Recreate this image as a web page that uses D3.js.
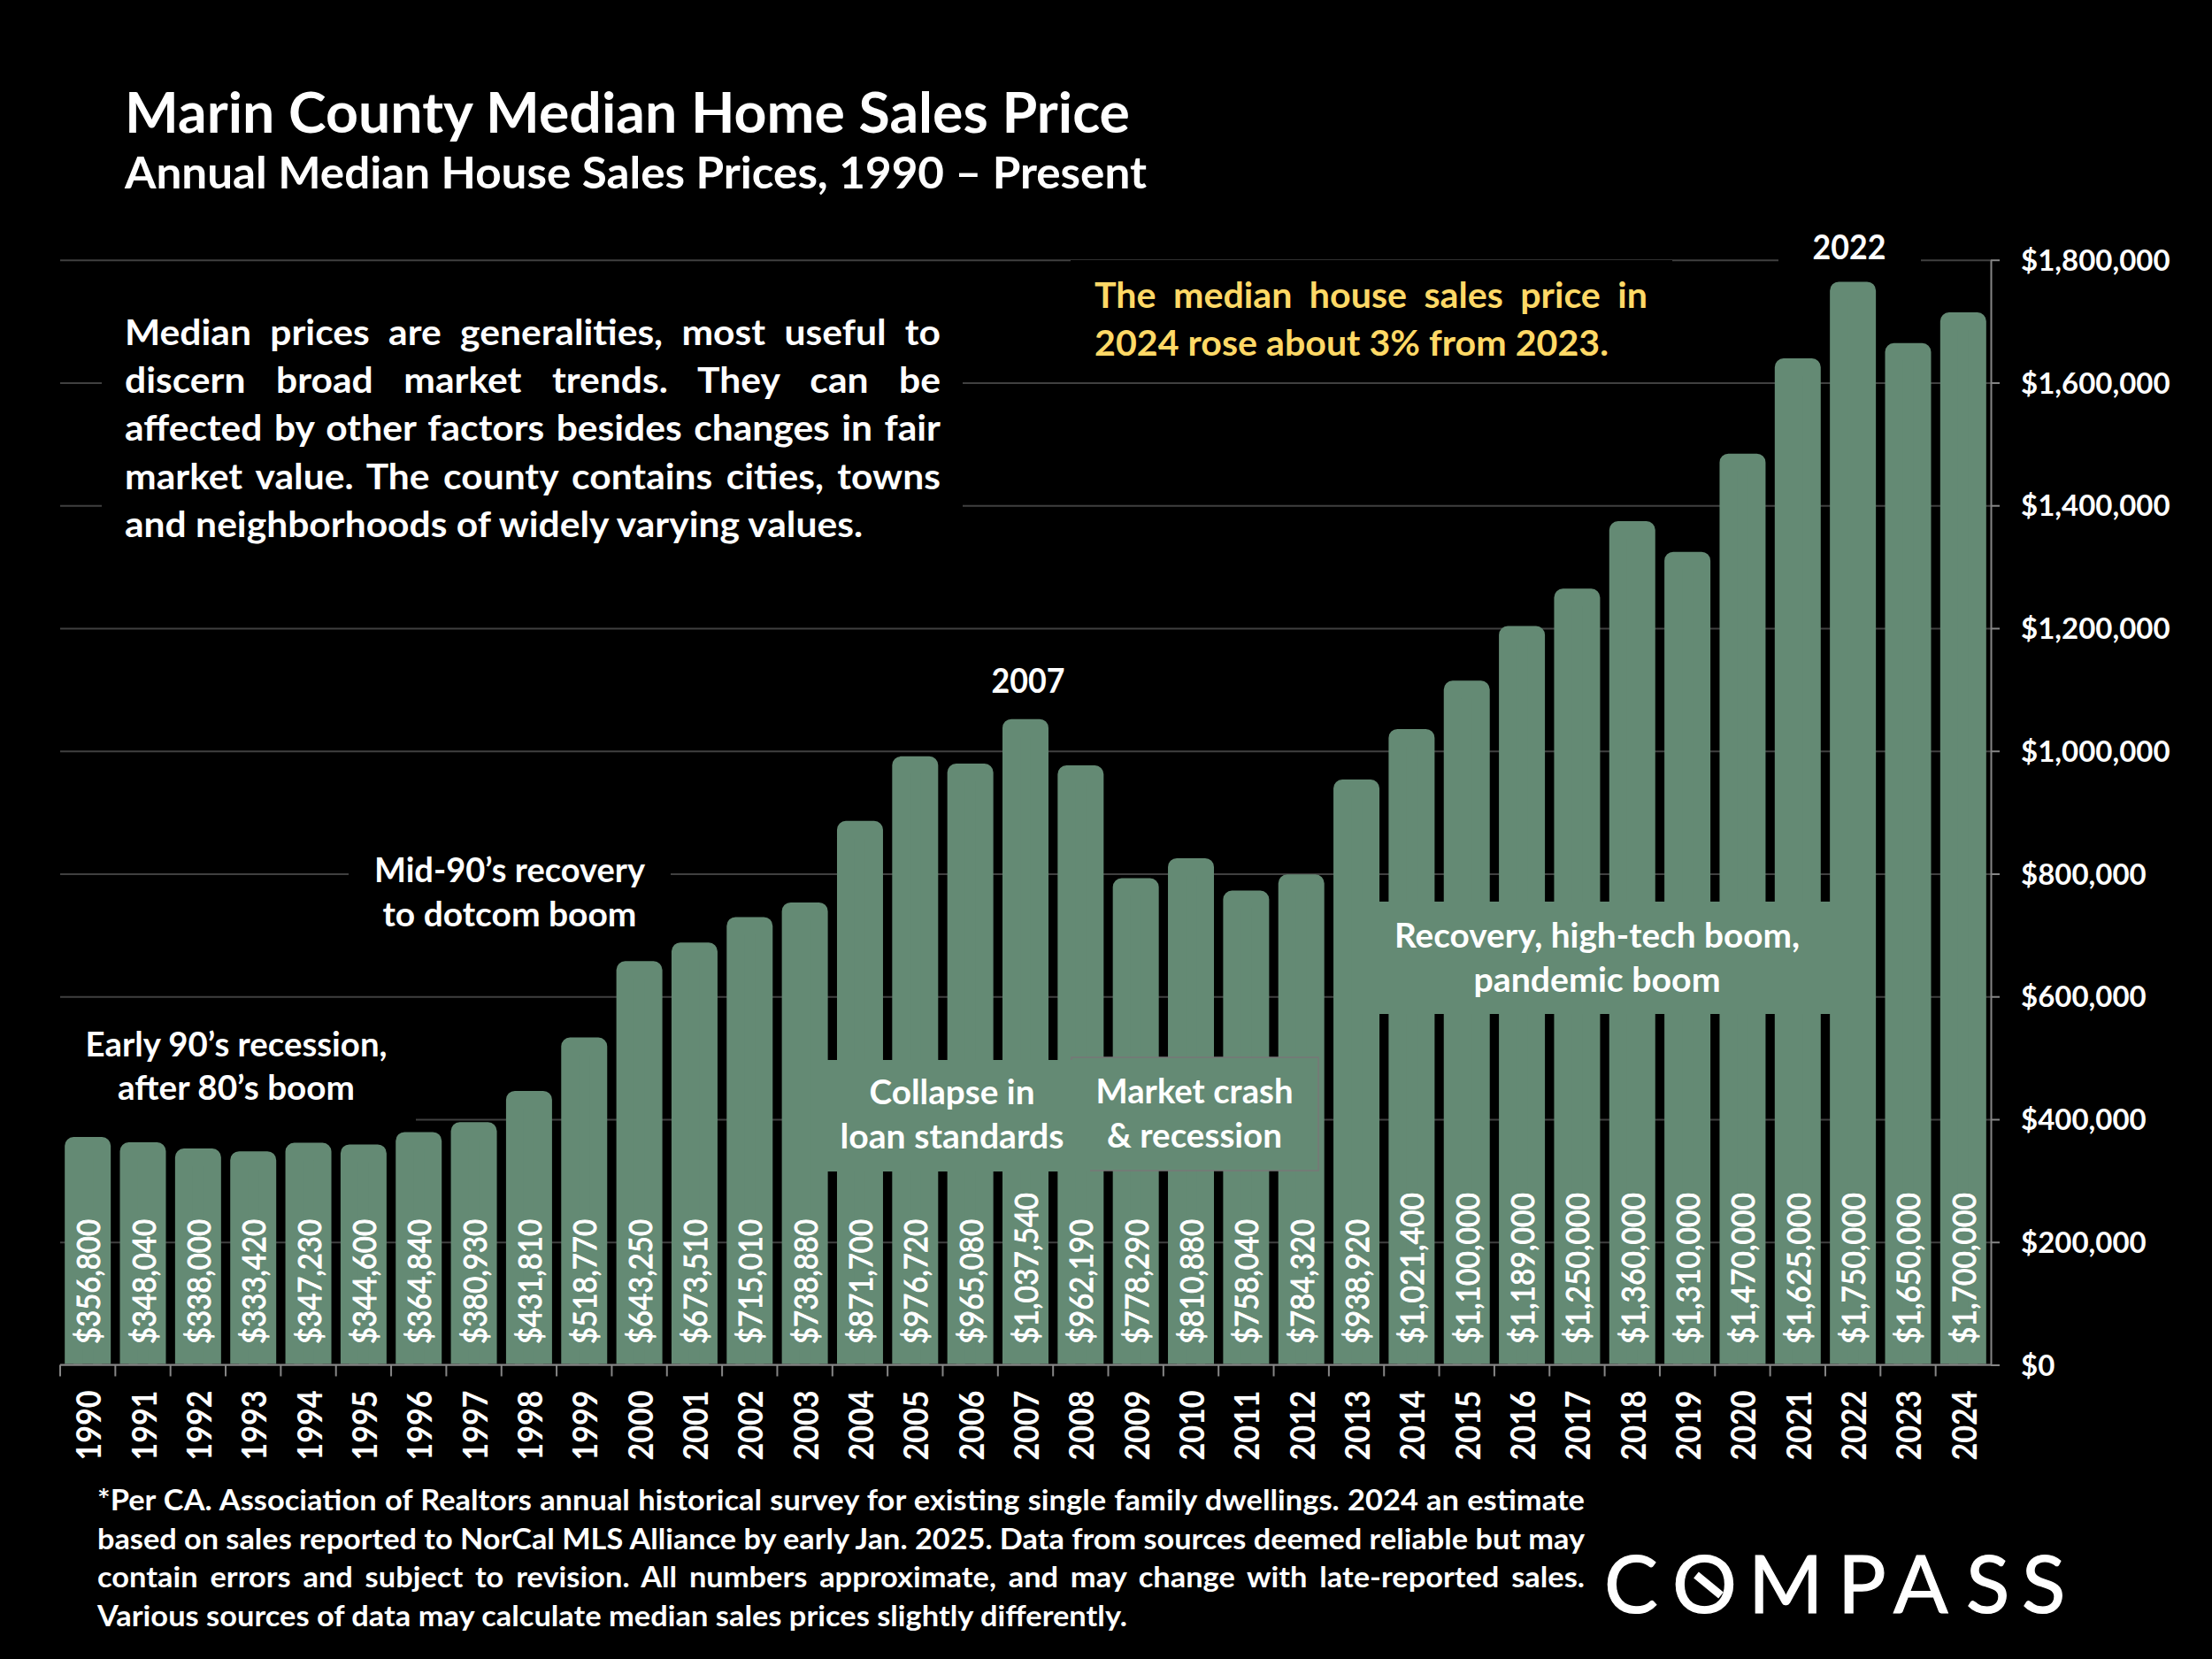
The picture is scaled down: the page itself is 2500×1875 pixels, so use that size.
<!DOCTYPE html>
<html>
<head>
<meta charset="utf-8">
<title>Marin County Median Home Sales Price</title>
<script src="https://cdn.jsdelivr.net/npm/d3@7"></script>
<style>
  html, body { margin: 0; padding: 0; background: #000; }
  svg { display: block; }
  text { font-family: Lato, Carlito, sans-serif; fill: #fff; }
</style>
</head>
<body>
<div id="chart"></div>
<script>
// Data -------------------------------------------------------------------------------------------------------
const years = [1990, 1991, 1992, 1993, 1994, 1995, 1996, 1997, 1998, 1999, 2000, 2001, 2002, 2003, 2004, 2005, 2006,
  2007, 2008, 2009, 2010, 2011, 2012, 2013, 2014, 2015, 2016, 2017, 2018, 2019, 2020, 2021, 2022, 2023, 2024];
const medianPrices = [356800, 348040, 338000, 333420, 347230, 344600, 364840, 380930, 431810, 518770, 643250, 673510,
  715010, 738880, 871700, 976720, 965080, 1037540, 962190, 778290, 810880, 758040, 784320, 938920, 1021400, 1100000,
  1189000, 1250000, 1360000, 1310000, 1470000, 1625000, 1750000, 1650000, 1700000];
const priceTicks = [0, 200000, 400000, 600000, 800000, 1000000, 1200000, 1400000, 1600000, 1800000];

const titleText = "Marin County Median Home Sales Price";
const subtitleText = "Annual Median House Sales Prices, 1990 – Present";
const bodyLines = [
  "Median prices are generalities, most useful to",
  "discern broad market trends. They can be",
  "affected by other factors besides changes in fair",
  "market value. The county contains cities, towns",
  "and neighborhoods of widely varying values."
];
const highlightLines = ["The median house sales price in", "2024 rose about 3% from 2023."];
const footnoteLines = [
  "*Per CA. Association of Realtors annual historical survey for existing single family dwellings. 2024 an estimate",
  "based on sales reported to NorCal MLS Alliance by early Jan. 2025. Data from sources deemed reliable but may",
  "contain errors and subject to revision. All numbers approximate, and may change with late-reported sales.",
  "Various sources of data may calculate median sales prices slightly differently."
];

// Dimensions -------------------------------------------------------------------------------------------------
const width = 2500, height = 1875;
const plot = {left: 68, right: 2250, top: 293.7, bottom: 1542.5};
const barColor = "#648a74", gridColor = "#404040", axisColor = "#868686";
const barRound = 20; // the bar's round-joined stroke gives the rounded top

const svg = d3.select("#chart").append("svg")
  .attr("width", width)
  .attr("height", height);

svg.append("rect").attr("width", width).attr("height", height).attr("fill", "#000");

// Scales -----------------------------------------------------------------------------------------------------
const x = d3.scaleBand()
  .domain(years)
  .range([plot.left, plot.right])
  .paddingInner(0.487)
  .paddingOuter(0.2435);

const y = d3.scaleLinear()
  .domain([0, 1800000])
  .range([plot.bottom, plot.top]);

// Text helpers -----------------------------------------------------------------------------------------------
const fit = (sel, w) => sel.attr("textLength", w).attr("lengthAdjust", "spacingAndGlyphs");

const addText = (px, py, txt, size, weight) => svg.append("text")
  .attr("x", px)
  .attr("y", py)
  .attr("font-size", size)
  .attr("font-weight", weight || 700)
  .text(txt);

const centered = (lines, cx, baselines, widths, size) => lines.forEach((t, i) => {
  fit(addText(cx, baselines[i], t, size).attr("text-anchor", "middle"), widths[i]);
});

// Paragraph: the last line is not justified and sets the squeeze, the word gaps of the others take what is left
const paragraph = (lines, px, py, step, size, w, lastW, color) => {
  const sel = lines.map((t, i) => addText(px, py + i * step, t, size).style("fill", color || "#fff"));
  const sx = lastW / sel[sel.length - 1].node().getComputedTextLength();
  sel.forEach((line, i) => {
    if (i === sel.length - 1) return fit(line, lastW);
    const gaps = line.text().split(" ").length - 1;
    const space = (w / sx - line.node().getComputedTextLength()) / gaps;
    if (space > 0) line.style("word-spacing", space + "px");
    fit(line, w);
  });
};

// Gridlines --------------------------------------------------------------------------------------------------
svg.append("g")
  .attr("class", "grid")
  .attr("transform", `translate(${plot.left},0)`)
  .call(d3.axisLeft(y).tickValues(priceTicks).tickSize(-(plot.right - plot.left)).tickFormat(""))
  .call(g => g.select(".domain").remove())
  .call(g => g.selectAll("line").attr("stroke", gridColor).attr("stroke-width", 2));

// Black text boxes that interrupt the gridlines
[
  [115, 310, 973, 320],
  [1210, 294, 680, 130],
  [2010, 270, 161, 40],
  [394, 960, 364, 100],
  [60, 1150, 410, 120]
].forEach(b => svg.append("rect")
  .attr("x", b[0]).attr("y", b[1]).attr("width", b[2]).attr("height", b[3]).attr("fill", "#000"));

// Axes -------------------------------------------------------------------------------------------------------
svg.append("g")
  .attr("class", "y-axis")
  .attr("transform", `translate(${plot.right},0)`)
  .call(d3.axisRight(y).tickValues(priceTicks).tickSize(10).tickSizeOuter(0).tickPadding(24).tickFormat(d3.format("$,")))
  .call(g => g.select(".domain").attr("stroke", axisColor).attr("stroke-width", 2))
  .call(g => g.selectAll("line").attr("stroke", axisColor).attr("stroke-width", 2))
  .call(g => g.selectAll("text")
    .attr("font-size", 33)
    .attr("font-weight", 700)
    .attr("fill", "#fff")
    .attr("dy", "0.35em")
    .style("font-family", "Lato, Carlito, sans-serif"));

const xAxis = svg.append("g")
  .attr("class", "x-axis")
  .attr("transform", `translate(0,${plot.bottom})`)
  .call(d3.axisBottom(x).tickSize(0).tickFormat(d3.format("d")))
  .call(g => g.select(".domain").remove());

xAxis.selectAll("text")
  .attr("font-size", 38)
  .attr("font-weight", 700)
  .attr("fill", "#fff")
  .style("font-family", "Lato, Carlito, sans-serif")
  .attr("text-anchor", "end")
  .attr("transform", "translate(15,29) rotate(-90)")
  .attr("x", 0).attr("y", 0).attr("dy", 0)
  .attr("textLength", 79)
  .attr("lengthAdjust", "spacingAndGlyphs");

// Bars -------------------------------------------------------------------------------------------------------
svg.append("clipPath")
  .attr("id", "plot-clip")
  .append("rect")
  .attr("x", plot.left)
  .attr("y", 0)
  .attr("width", plot.right - plot.left)
  .attr("height", plot.bottom - 1);

const barData = years.map((d, i) => ({year: d, price: medianPrices[i]}));

svg.append("g")
  .attr("clip-path", "url(#plot-clip)")
  .selectAll("rect")
  .data(barData)
  .enter()
  .append("rect")
  .attr("x", d => x(d.year))
  .attr("y", d => y(d.price))
  .attr("width", x.bandwidth())
  .attr("height", d => plot.bottom - y(d.price) + barRound)
  .attr("fill", barColor)
  .attr("stroke", barColor)
  .attr("stroke-width", barRound)
  .attr("stroke-linejoin", "round");

// Baseline and ticks between the bars
svg.append("line")
  .attr("x1", plot.left).attr("x2", plot.right)
  .attr("y1", plot.bottom).attr("y2", plot.bottom)
  .attr("stroke", axisColor).attr("stroke-width", 2);

svg.append("g")
  .selectAll("line")
  .data(years)
  .enter()
  .append("line")
  .attr("x1", d => x(d) - x.step() * x.paddingOuter())
  .attr("x2", d => x(d) - x.step() * x.paddingOuter())
  .attr("y1", plot.bottom)
  .attr("y2", plot.bottom + 13)
  .attr("stroke", axisColor)
  .attr("stroke-width", 2);

// Green annotation boxes -------------------------------------------------------------------------------------
svg.append("rect").attr("x", 1211).attr("y", 1195).attr("width", 279).attr("height", 128)
  .attr("fill", barColor).attr("stroke", "#777").attr("stroke-width", 1.5);
svg.append("rect").attr("x", 930).attr("y", 1198).attr("width", 302).attr("height", 126).attr("fill", barColor);
svg.append("rect").attr("x", 1530).attr("y", 1019).attr("width", 570).attr("height", 127).attr("fill", barColor);

// Value labels -----------------------------------------------------------------------------------------------
svg.append("g")
  .selectAll("text")
  .data(barData)
  .enter()
  .append("text")
  .attr("transform", d => `translate(${x(d.year) + x.bandwidth() / 2 + 14},1519) rotate(-90)`)
  .attr("font-size", 37)
  .attr("font-weight", 400)
  .attr("stroke", "#fff")
  .attr("stroke-width", 0.9)
  .attr("textLength", d => d.price >= 1000000 ? 171 : 141)
  .attr("lengthAdjust", "spacingAndGlyphs")
  .text(d => d3.format("$,")(d.price));

// Titles and notes -------------------------------------------------------------------------------------------
fit(addText(141, 149.5, titleText, 64), 1136);
fit(addText(141, 213, subtitleText, 49), 1155);

paragraph(bodyLines, 141, 390, 54.2, 41, 922, 834);
paragraph(highlightLines, 1237, 348, 54, 41, 625, 581, "#ffd966");
paragraph(footnoteLines, 110, 1707, 43.7, 33, 1681, 1164);

centered(["2022"], 2090, [293], [83], 39);
centered(["2007"], 1162, [783], [83], 39);
centered(["Mid-90’s recovery", "to dotcom boom"], 576, [997, 1047], [306, 287], 39);
centered(["Early 90’s recession,", "after 80’s boom"], 267, [1194, 1243], [341, 268], 39);
centered(["Collapse in", "loan standards"], 1076, [1248, 1298], [187, 253], 39);
centered(["Market crash", "& recession"], 1350, [1247, 1297], [223, 198], 39);
centered(["Recovery, high-tech boom,", "pandemic boom"], 1805, [1071, 1121], [458, 279], 39);

// Logo -------------------------------------------------------------------------------------------------------
svg.append("text")
  .attr("x", "1813 1890 1976 2077 2140 2222 2285")
  .attr("y", 1823)
  .attr("font-size", 91)
  .attr("font-weight", 400)
  .attr("stroke", "#fff")
  .attr("stroke-width", 1.2)
  .text("COMPASS");

svg.append("line")
  .attr("x1", 1917).attr("y1", 1780)
  .attr("x2", 1945).attr("y2", 1803)
  .attr("stroke", "#fff")
  .attr("stroke-width", 9);
</script>
</body>
</html>
